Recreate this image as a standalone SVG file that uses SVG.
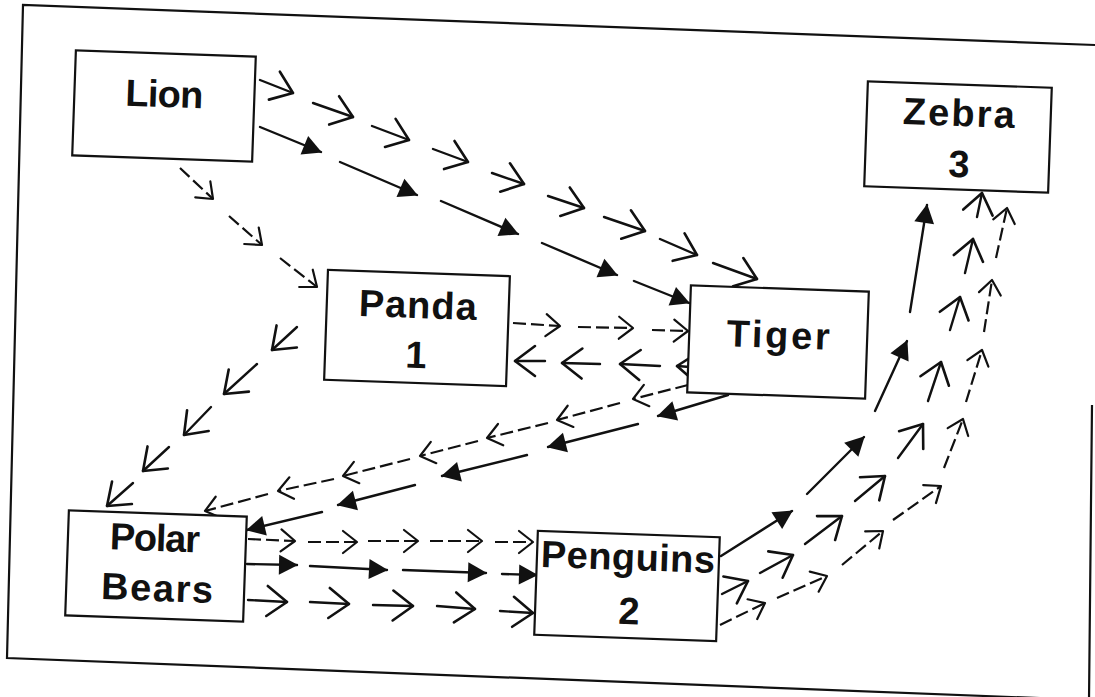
<svg xmlns="http://www.w3.org/2000/svg" width="1095" height="697" viewBox="0 0 1095 697">
<style>
.box{fill:#fff;stroke:#111;stroke-width:2.2}
.lbl{font-family:"Liberation Sans",Arial,sans-serif;font-weight:bold;font-size:38px;fill:#111;text-anchor:middle}
.s{fill:none;stroke:#111;stroke-width:2.4;stroke-linecap:round}
.d{fill:none;stroke:#111;stroke-width:2.2;stroke-dasharray:13 5}
.ov{marker-end:url(#ov)}
.sv{marker-end:url(#sv)}
.tr{marker-end:url(#tri)}
</style>
<defs>
<marker id="ov" viewBox="0 0 24 34" refX="22" refY="17" markerWidth="24" markerHeight="34" markerUnits="userSpaceOnUse" orient="auto" overflow="visible">
<path d="M2,2 L22,17 L2,32" fill="none" stroke="#111" stroke-width="2.6" stroke-linecap="round" stroke-linejoin="round"/>
</marker>
<marker id="sv" viewBox="0 0 18 26" refX="16" refY="13" markerWidth="18" markerHeight="26" markerUnits="userSpaceOnUse" orient="auto" overflow="visible">
<path d="M2,2 L16,13 L2,24" fill="none" stroke="#111" stroke-width="2.2" stroke-linecap="round" stroke-linejoin="round"/>
</marker>
<marker id="tri" viewBox="0 0 19 22" refX="18" refY="11" markerWidth="19" markerHeight="22" markerUnits="userSpaceOnUse" orient="auto" overflow="visible">
<path d="M0,1 L19,11 L0,21 z" fill="#111"/>
</marker>
</defs>
<rect width="1095" height="697" fill="#fff"/>
<g id="frame"><path d="M1095,45 L23,5 L7,658 L1089,700 M1092,405 L1089,700" fill="none" stroke="#111" stroke-width="2.2"/></g>

<g id="connectors">
<g id="lion-tiger-open">
<path class="s ov" d="M260,80 L293,93"/>
<path class="s ov" d="M313,103 L353,117"/>
<path class="s ov" d="M372,126 L409,140"/>
<path class="s ov" d="M433,149 L468,162"/>
<path class="s ov" d="M492,173 L524,184"/>
<path class="s ov" d="M548,196 L584,208"/>
<path class="s ov" d="M604,217 L645,231"/>
<path class="s ov" d="M660,239 L697,255"/>
<path class="s ov" d="M713,263 L757,279"/>
</g>
<g id="lion-tiger-filled">
<path class="s tr" d="M260,127 L321,152"/>
<path class="s tr" d="M340,162 L417,195"/>
<path class="s tr" d="M441,201 L518,234"/>
<path class="s tr" d="M542,243 L617,275"/>
<path class="s tr" d="M634,281 L689,303"/>
</g>
<g id="lion-panda">
<path class="d sv" d="M180,168 L213,199"/>
<path class="d sv" d="M229,216 L262,245"/>
<path class="d sv" d="M280,258 L317,287"/>
</g>
<g id="panda-tiger">
<path class="d sv" d="M513,323 L560,326"/>
<path class="d sv" d="M578,327 L633,328"/>
<path class="d sv" d="M652,330 L688,331"/>
</g>
<g id="tiger-panda">
<path class="s ov" d="M545,361 L515,361"/>
<path class="s ov" d="M600,364 L562,363"/>
<path class="s ov" d="M660,366 L620,364"/>
<path class="s ov" d="M690,367 L677,366"/>
</g>
<g id="tiger-polar-dashed">
<path class="d sv" d="M688,385 L633,399"/>
<path class="d sv" d="M620,403 L557,420"/>
<path class="d sv" d="M548,423 L487,438"/>
<path class="d sv" d="M478,441 L420,456"/>
<path class="d sv" d="M410,459 L343,476"/>
<path class="d sv" d="M334,479 L278,491"/>
<path class="d sv" d="M268,494 L205,511"/>
</g>
<g id="tiger-polar-filled">
<path class="s tr" d="M728,395 L658,416"/>
<path class="s tr" d="M638,424 L548,447"/>
<path class="s tr" d="M527,455 L442,476"/>
<path class="s tr" d="M415,485 L338,505"/>
<path class="s tr" d="M322,512 L247,530"/>
</g>
<g id="panda-polar">
<path class="s ov" d="M297,327 L272,350"/>
<path class="s ov" d="M257,364 L224,394"/>
<path class="s ov" d="M211,407 L184,435"/>
<path class="s ov" d="M169,447 L143,471"/>
<path class="s ov" d="M133,483 L107,506"/>
</g>
<g id="polar-penguins-dashed">
<path class="d sv" d="M248,539 L295,541"/>
<path class="d sv" d="M308,542 L357,542"/>
<path class="d sv" d="M368,541 L418,541"/>
<path class="d sv" d="M430,541 L482,541"/>
<path class="d sv" d="M495,542 L533,542"/>
</g>
<g id="polar-penguins-filled">
<path class="s tr" d="M247,564 L297,565"/>
<path class="s tr" d="M310,566 L387,570"/>
<path class="s tr" d="M403,570 L486,573"/>
<path class="s tr" d="M502,574 L537,575"/>
</g>
<g id="polar-penguins-open">
<path class="s ov" d="M248,600 L287,602"/>
<path class="s ov" d="M310,602 L349,604"/>
<path class="s ov" d="M373,605 L413,606"/>
<path class="s ov" d="M437,606 L475,609"/>
<path class="s ov" d="M500,611 L533,613"/>
</g>
<g id="penguins-zebra-filled">
<path class="s tr" d="M721,556 L792,511"/>
<path class="s tr" d="M807,494 L864,437"/>
<path class="s tr" d="M875,411 L907,341"/>
<path class="s tr" d="M910,312 L927,205"/>
</g>
<g id="penguins-zebra-open">
<path class="s ov" d="M722,594 L748,581"/>
<path class="s ov" d="M760,573 L793,555"/>
<path class="s ov" d="M805,544 L842,516"/>
<path class="s ov" d="M855,501 L885,476"/>
<path class="s ov" d="M898,458 L923,424"/>
<path class="s ov" d="M928,401 L941,362"/>
<path class="s ov" d="M950,330 L960,297"/>
<path class="s ov" d="M965,273 L973,239"/>
<path class="s ov" d="M977,217 L982,193"/>
</g>
<g id="penguins-zebra-dashed">
<path class="d sv" d="M720,625 L765,603"/>
<path class="d sv" d="M777,598 L827,576"/>
<path class="d sv" d="M842,565 L883,531"/>
<path class="d sv" d="M893,520 L941,486"/>
<path class="d sv" d="M944,468 L963,419"/>
<path class="d sv" d="M966,402 L982,350"/>
<path class="d sv" d="M984,332 L992,280"/>
<path class="d sv" d="M996,258 L1007,208"/>
</g>
</g>

<g id="lion" transform="rotate(2 164 106)">
<rect class="box" x="74" y="53.5" width="180" height="105"/>
<text class="lbl" x="164" y="107" textLength="78">Lion</text>
</g>
<g id="panda" transform="rotate(2 417 328)">
<rect class="box" x="326" y="273" width="182" height="110"/>
<text class="lbl" x="417" y="318" textLength="118">Panda</text>
<text class="lbl" x="417" y="368">1</text>
</g>
<g id="tiger" transform="rotate(2 778 342)">
<rect class="box" x="689" y="288.5" width="178" height="107"/>
<text class="lbl" x="778" y="348" textLength="103">Tiger</text>
</g>
<g id="zebra" transform="rotate(2 958 137)">
<rect class="box" x="866" y="84.5" width="184" height="105"/>
<text class="lbl" x="958" y="126" textLength="112">Zebra</text>
<text class="lbl" x="960" y="177">3</text>
</g>
<g id="polar-bears" transform="rotate(2 156 566)">
<rect class="box" x="67" y="513.5" width="178" height="105"/>
<text class="lbl" x="154" y="551" textLength="90">Polar</text>
<text class="lbl" x="158" y="601" textLength="112">Bears</text>
</g>
<g id="penguins" transform="rotate(2 627 586)">
<rect class="box" x="536" y="534" width="182" height="104"/>
<text class="lbl" x="627" y="570" textLength="174">Penguins</text>
<text class="lbl" x="630" y="624">2</text>
</g>
</svg>
